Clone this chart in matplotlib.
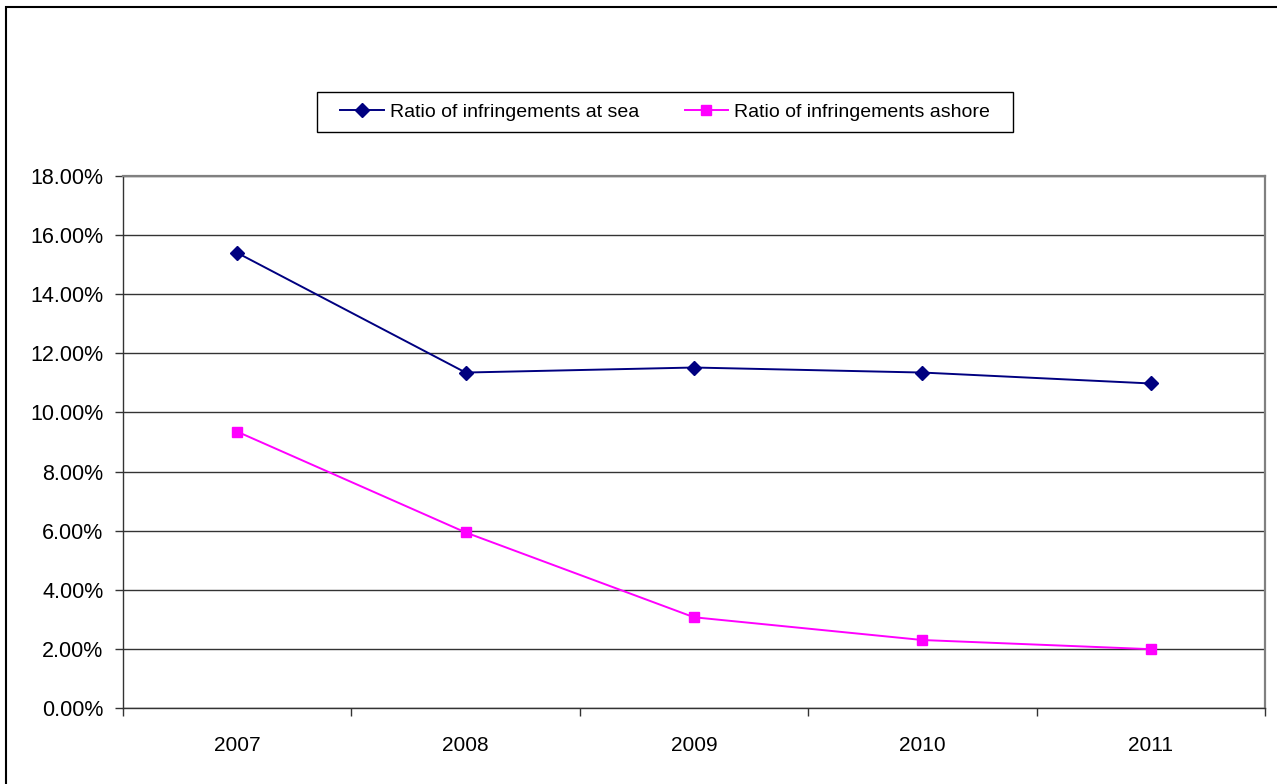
import matplotlib
matplotlib.use("Agg")
import matplotlib.pyplot as plt
from matplotlib.patches import Rectangle
from matplotlib.ticker import FuncFormatter, FixedLocator

plt.rcParams['font.family'] = ['Liberation Sans', 'DejaVu Sans']

years = ["2007", "2008", "2009", "2010", "2011"]
ratio_at_sea = [15.40, 11.35, 11.52, 11.35, 10.98]
ratio_ashore = [9.35, 5.94, 3.07, 2.30, 1.99]
series_names = ["Ratio of infringements at sea", "Ratio of infringements ashore"]

W, H = 1277, 784
fig = plt.figure(figsize=(W / 100, H / 100), dpi=100)
fig.patch.set_facecolor("white")

# outer chart border (open on the right and bottom)
fig.add_artist(Rectangle((6 / W, -0.2), 2.0, 0.2 + 1 - 7 / H,
                         transform=fig.transFigure, fill=False,
                         edgecolor="black", linewidth=1.5, clip_on=False))

ax = fig.add_axes([123 / W, 1 - 708 / H, (1265 - 123) / W, (708 - 176) / H])

x = list(range(len(years)))
ax.plot(x, ratio_at_sea, color="#000080", marker="D", markersize=7.5,
        linewidth=1.4, label=series_names[0], zorder=3)
ax.plot(x, ratio_ashore, color="#FF00FF", marker="s", markersize=7,
        linewidth=1.4, label=series_names[1], zorder=3)

ax.set_xlim(-0.5, len(years) - 0.5)
ax.set_ylim(0, 18)
ax.set_yticks(range(0, 19, 2))
ax.yaxis.set_major_formatter(FuncFormatter(lambda v, p: f"{v:.2f}%"))
ax.grid(axis="y", color="#333333", linewidth=1.0)
ax.set_axisbelow(True)

ax.set_xticks(x)
ax.set_xticklabels(years)
ax.xaxis.set_minor_locator(FixedLocator([i - 0.5 for i in range(len(years) + 1)]))
ax.tick_params(axis="x", which="major", length=0, pad=20, labelsize=15)
ax.tick_params(axis="x", which="minor", length=6, width=1, color="#333333")
ax.tick_params(axis="y", length=6, width=1, color="#333333", pad=8, labelsize=15.5)

for side in ("top", "right"):
    ax.spines[side].set_color("#808080")
    ax.spines[side].set_linewidth(1.6)
for side in ("left", "bottom"):
    ax.spines[side].set_color("#333333")
    ax.spines[side].set_linewidth(1.0)

# legend entries without their own frame; the box is drawn separately
leg = fig.legend(loc="center", ncol=2,
                 bbox_to_anchor=(665 / W, 1 - 112 / H),
                 frameon=False, fontsize=14, handlelength=2.25,
                 handletextpad=0.3, borderaxespad=0, borderpad=0,
                 columnspacing=2.35)
fig.add_artist(Rectangle((317 / W, 1 - 132 / H), (1013 - 317) / W, 40 / H,
                         transform=fig.transFigure, fill=False,
                         edgecolor="black", linewidth=1.0))

fig.savefig("out.png", dpi=100, facecolor="white")
